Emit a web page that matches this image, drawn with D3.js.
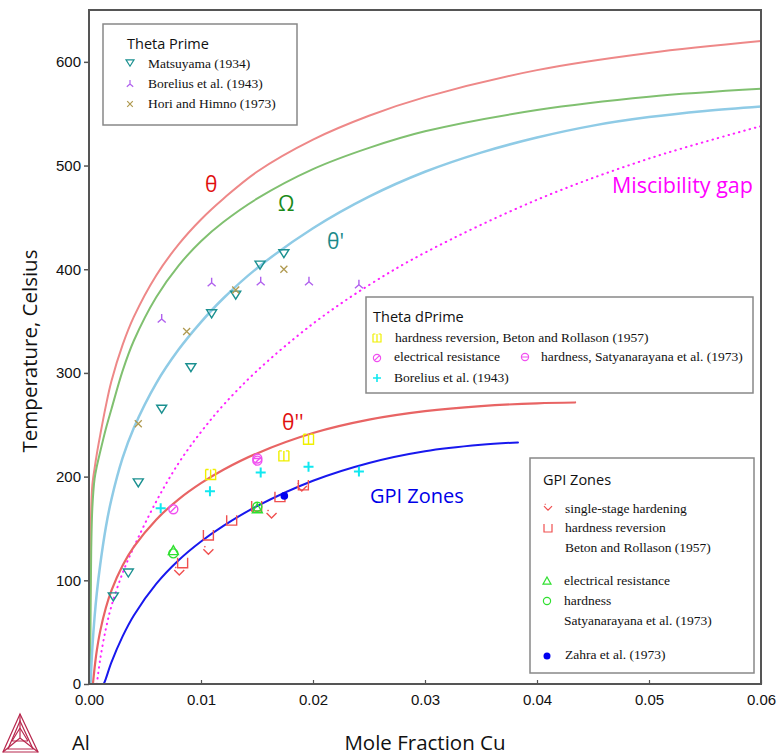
<!DOCTYPE html>
<html>
<head>
<meta charset="utf-8">
<script src="https://cdn.jsdelivr.net/npm/d3@7/dist/d3.min.js"></script>
<style>
  html, body { margin: 0; padding: 0; background: #fff; }
  svg { display: block; }
</style>
</head>
<body>
<div id="chart"></div>
<script>
// ---- Phase boundaries, [mole fraction Cu, temperature °C] ----
const thetaLine = [[0.00007,0],[0.0001,70],[0.00015,130],[0.0002,170],[0.0003,192],[0.0005,208],[0.0007,222],[0.001,240],[0.0015,268],[0.002,292],[0.003,327],[0.004,354],[0.006,394],[0.008,424],[0.01,448],[0.012,468],[0.015,494],[0.02,525],[0.025,548],[0.03,566],[0.04,592],[0.05,608.5],[0.06,620]];
const omegaLine = [[0.0001,0],[0.00015,80],[0.0002,130],[0.0003,170],[0.0005,198],[0.0007,210],[0.001,224],[0.0015,246],[0.002,265],[0.003,302],[0.004,331],[0.006,373],[0.008,403.5],[0.01,427],[0.012,445.5],[0.015,468],[0.02,496.5],[0.025,517],[0.03,533],[0.04,553.5],[0.05,566.4],[0.06,574]];
const thetaPrimeLine = [[0.00015,2],[0.0002,15],[0.0003,35],[0.0005,65],[0.0007,88],[0.001,115],[0.0015,151],[0.002,178],[0.003,218],[0.004,247],[0.006,290],[0.008,322.5],[0.01,349],[0.012,372],[0.015,401],[0.02,439.5],[0.025,470],[0.03,494],[0.035,512.5],[0.04,527],[0.045,538.5],[0.05,546.7],[0.055,552.6],[0.06,557]];
const miscibilityGap = [[0.0007,0],[0.001,24],[0.0015,53],[0.002,75],[0.003,107],[0.004,132],[0.006,176],[0.008,213],[0.01,243],[0.012,269],[0.015,302],[0.02,347.5],[0.025,384.7],[0.03,416],[0.04,467],[0.05,506.7],[0.06,538]];
const thetaDPrimeLine = [[0.00035,0],[0.0005,15.6],[0.0007,32.4],[0.001,51],[0.0015,73.3],[0.002,90],[0.003,114.3],[0.004,132.2],[0.006,158.5],[0.008,178.1],[0.01,193.7],[0.012,206.6],[0.015,222.4],[0.02,242],[0.025,254.9],[0.03,263.1],[0.035,268],[0.04,270.7],[0.0434,271.5]];
const gpiLine = [[0.00132,0],[0.0015,5],[0.002,20.8],[0.003,45.9],[0.004,66.1],[0.006,96.5],[0.008,119.3],[0.01,137.4],[0.012,152.5],[0.015,171.5],[0.02,196],[0.025,213.2],[0.03,224.5],[0.035,230.7],[0.0383,233]];

// ---- Experimental points ----
const matsuyama = [[0.00217,84],[0.00351,107],[0.0044,194],[0.00649,265],[0.0091,305],[0.01095,357],[0.0131,375],[0.01527,404],[0.0174,415]];
const boreliusPrime = [[0.00649,352],[0.01095,387],[0.01533,388],[0.01964,388],[0.0241,385]];
const horiHimno = [[0.0044,251],[0.00872,340],[0.0131,380],[0.0174,400]];
const betonDPrime = [[0.01086,202],[0.0174,220],[0.0196,236]];
const elecResDPrime = [[0.00753,168.5],[0.01503,215.4]];
const hardnessSatDPrime = [[0.01503,217.5]];
const boreliusDPrime = [[0.0064,169.5],[0.0108,186],[0.01533,204],[0.0196,209.6],[0.0241,205]];
const singleStage = [[0.00806,109],[0.01066,129],[0.0163,164],[0.019,190]];
const hardRevGPI = [[0.00836,117],[0.01066,143.7],[0.01274,158],[0.01497,171.7],[0.01705,180.7],[0.01914,192]];
const elecResGPI = [[0.00753,128.6],[0.01503,169]];
const hardnessGPI = [[0.00753,126],[0.01503,171]];
const zahra = [[0.01744,181.4]];

// ---- Axis ticks ----
const xTicks = [0, 0.01, 0.02, 0.03, 0.04, 0.05, 0.06];
const yTicks = [0, 100, 200, 300, 400, 500, 600];

const W = 779, H = 756;
const svg = d3.select("#chart").append("svg").attr("width", W).attr("height", H);

const x = d3.scaleLinear().domain([0, 0.06]).range([89, 761]);
const y = d3.scaleLinear().domain([0, 650]).range([684, 10]);

const sans = "'Liberation Sans', Arial, sans-serif";
const serif = "'Liberation Serif', 'Times New Roman', serif";
const soft = "'Open Sans', 'Noto Sans', sans-serif";

svg.append("defs").append("clipPath").attr("id", "plot")
  .append("rect").attr("x", 89).attr("y", 10).attr("width", 672).attr("height", 674);

const line = d3.line().x(d => x(d[0])).y(d => y(d[1])).curve(d3.curveCatmullRom.alpha(0.5));
const curves = svg.append("g").attr("clip-path", "url(#plot)");

function drawCurve(data, color, width, dash) {
  curves.append("path").datum(data)
    .attr("d", line).attr("fill", "none")
    .attr("stroke", color).attr("stroke-width", width)
    .attr("stroke-linecap", "round")
    .attr("stroke-dasharray", dash || null);
}
drawCurve(thetaLine, "#ee8888", 2);
drawCurve(omegaLine, "#80c070", 2);
drawCurve(thetaPrimeLine, "#8fcbe6", 2.5);
drawCurve(miscibilityGap, "#ff22ff", 2, "0.5,5");
drawCurve(thetaDPrimeLine, "#e86464", 2.2);
drawCurve(gpiLine, "#1818ee", 2);

// ---- Marker shapes ----
const shapes = {
  triDown: "M-5,-4 L5,-4 L0,4 Z",
  tri3: "M0,0 L0,-5 M0,0 L-4,3.5 M0,0 L4,3.5",
  cross: "M-3.5,-3.5 L3.5,3.5 M-3.5,3.5 L3.5,-3.5",
  shaSq: "M-5,-5 V5 H5 V-5 M0,-5 V5 M-5,-5 H-2 M2,-5 H5",
  circSlash: "M-4.5,0 A4.5,4.5 0 1,0 4.5,0 A4.5,4.5 0 1,0 -4.5,0 M-3,3 L3,-3",
  circBar: "M-4.5,0 A4.5,4.5 0 1,0 4.5,0 A4.5,4.5 0 1,0 -4.5,0 M-4.5,0 H4.5",
  plus: "M-5,0 H5 M0,-5 V5",
  check: "M-5,-1 L0,4 L5,-1 M-4,-4 L-3,-3",
  cup: "M-5,-5 V5 H5 V-5",
  triUp: "M0,-5 L5,4 L-5,4 Z",
  circle: "M-4.5,0 A4.5,4.5 0 1,0 4.5,0 A4.5,4.5 0 1,0 -4.5,0"
};

const marks = svg.append("g");
function drawMarks(data, shape, color, width) {
  marks.selectAll(null).data(data).enter().append("path")
    .attr("transform", d => `translate(${x(d[0])},${y(d[1])})`)
    .attr("d", shapes[shape]).attr("fill", "none")
    .attr("stroke", color).attr("stroke-width", width || 1.3);
}
drawMarks(matsuyama, "triDown", "#1a9090", 1.4);
drawMarks(boreliusPrime, "tri3", "#b060ee", 1.4);
drawMarks(horiHimno, "cross", "#b09a50", 1.3);
drawMarks(betonDPrime, "shaSq", "#f0f000", 1.4);
drawMarks(elecResDPrime, "circSlash", "#f050f0", 1.4);
drawMarks(hardnessSatDPrime, "circBar", "#f050f0", 1.4);
drawMarks(boreliusDPrime, "plus", "#10e8f0", 2);
drawMarks(singleStage, "check", "#f05050", 1.4);
drawMarks(hardRevGPI, "cup", "#f05050", 1.4);
drawMarks(elecResGPI, "triUp", "#30e030", 1.4);
drawMarks(hardnessGPI, "circle", "#30e030", 1.4);
marks.selectAll(null).data(zahra).enter().append("circle")
  .attr("cx", d => x(d[0])).attr("cy", d => y(d[1])).attr("r", 3.8).attr("fill", "#0000f0");

// ---- Frame and axes ----
svg.append("rect").attr("x", 89).attr("y", 10).attr("width", 672).attr("height", 674)
  .attr("fill", "none").attr("stroke", "#555").attr("stroke-width", 2);

const yAxis = svg.append("g").attr("transform", "translate(89,0)")
  .call(d3.axisLeft(y).tickValues(yTicks).tickSize(5).tickPadding(3).tickFormat(d3.format("d")));
yAxis.select(".domain").remove();
yAxis.selectAll("line").attr("stroke", "#555").attr("stroke-width", 1.5);
yAxis.selectAll("text").attr("font-family", sans).attr("font-size", 15).attr("fill", "#111");

const xAxis = svg.append("g").attr("transform", "translate(0,684)")
  .call(d3.axisBottom(x).tickValues(xTicks).tickSize(-4).tickPadding(10).tickFormat(d3.format(".2f")));
xAxis.select(".domain").remove();
xAxis.selectAll("line").attr("stroke", "#555").attr("stroke-width", 1.2);
xAxis.selectAll("text").attr("font-family", sans).attr("font-size", 15).attr("fill", "#111");

svg.append("text").attr("transform", "translate(37,351) rotate(-90)")
  .attr("text-anchor", "middle").attr("font-family", soft).attr("font-size", 20.5).attr("fill", "#111")
  .text("Temperature, Celsius");
svg.append("text").attr("x", 425).attr("y", 750).attr("text-anchor", "middle")
  .attr("font-family", soft).attr("font-size", 20.5).attr("fill", "#111").text("Mole Fraction Cu");
svg.append("text").attr("x", 72).attr("y", 750)
  .attr("font-family", soft).attr("font-size", 20).attr("fill", "#111").text("Al");

// ---- Logo ----
const logo = svg.append("g").attr("fill", "none").attr("stroke", "#b8284e").attr("stroke-width", 1.2);
logo.append("path").attr("d", "M20,714 L3,752 L38,752 Z");
logo.append("path").attr("d", "M20,714 L20,738 M3,752 L20,738 M38,752 L20,738");
logo.append("path").attr("d", "M20,721 L8,749 L33,749 Z");
logo.append("path").attr("d", "M12,741 L28,741 M20,728 L12,741 M20,728 L28,741");

// ---- Phase labels ----
function label(t, px, py, color, size) {
  svg.append("text").attr("x", px).attr("y", py).attr("font-family", soft)
    .attr("font-size", size).attr("fill", color).text(t);
}
label("θ", 205, 192, "#e01010", 21);
label("Ω", 278, 211, "#1a8a1a", 21);
label("θ'", 327, 249, "#1a8a8a", 21);
label("θ''", 282, 430, "#e01010", 21);
label("Miscibility gap", 612, 193, "#ff00ff", 21.5);
label("GPI Zones", 370, 503, "#0000e8", 20);

// ---- Legends ----
function legendBox(x0, y0, w, h) {
  svg.append("rect").attr("x", x0).attr("y", y0).attr("width", w).attr("height", h)
    .attr("fill", "#fff").attr("stroke", "#888").attr("stroke-width", 1.5);
}
function legendTitle(t, px, py) {
  svg.append("text").attr("x", px).attr("y", py).attr("font-family", soft)
    .attr("font-size", 14.5).attr("fill", "#111").text(t);
}
function legendItem(t, px, py) {
  svg.append("text").attr("x", px).attr("y", py).attr("font-family", serif)
    .attr("font-size", 13.5).attr("fill", "#111").text(t);
}
function legendMark(shape, color, px, py, width, scale) {
  svg.append("path").attr("transform", `translate(${px},${py}) scale(${scale || 0.8})`)
    .attr("d", shapes[shape]).attr("fill", "none").attr("stroke", color).attr("stroke-width", width || 1.5);
}

legendBox(103, 24, 194, 101);
legendTitle("Theta Prime", 127, 49);
legendMark("triDown", "#1a9090", 130, 63);
legendItem("Matsuyama (1934)", 148, 68);
legendMark("tri3", "#b060ee", 130, 84);
legendItem("Borelius et al. (1943)", 148, 88);
legendMark("cross", "#b09a50", 130, 104);
legendItem("Hori and Himno (1973)", 148, 108);

legendBox(366, 297, 387, 96);
legendTitle("Theta dPrime", 373, 322);
legendMark("shaSq", "#f0f000", 377, 338);
legendItem("hardness reversion, Beton and Rollason (1957)", 395, 342);
legendMark("circSlash", "#f050f0", 377, 358);
legendItem("electrical resistance", 394, 361);
legendMark("circBar", "#f050f0", 525, 357);
legendItem("hardness, Satyanarayana et al. (1973)", 541, 361);
legendMark("plus", "#10e8f0", 377, 378, 2);
legendItem("Borelius et al. (1943)", 394, 382);

legendBox(530, 458, 224, 215);
legendTitle("GPI Zones", 543, 485);
legendMark("check", "#f05050", 548, 507);
legendItem("single-stage hardening", 565, 513);
legendMark("cup", "#f05050", 548, 528);
legendItem("hardness reversion", 565, 532);
legendItem("Beton and Rollason (1957)", 565, 552);
legendMark("triUp", "#30e030", 547, 581);
legendItem("electrical resistance", 564, 585);
legendMark("circle", "#30e030", 547, 601);
legendItem("hardness", 564, 605);
legendItem("Satyanarayana et al. (1973)", 564, 625);
svg.append("circle").attr("cx", 547).attr("cy", 656).attr("r", 3.5).attr("fill", "#0000f0");
legendItem("Zahra et al. (1973)", 565, 659);
</script>
</body>
</html>
